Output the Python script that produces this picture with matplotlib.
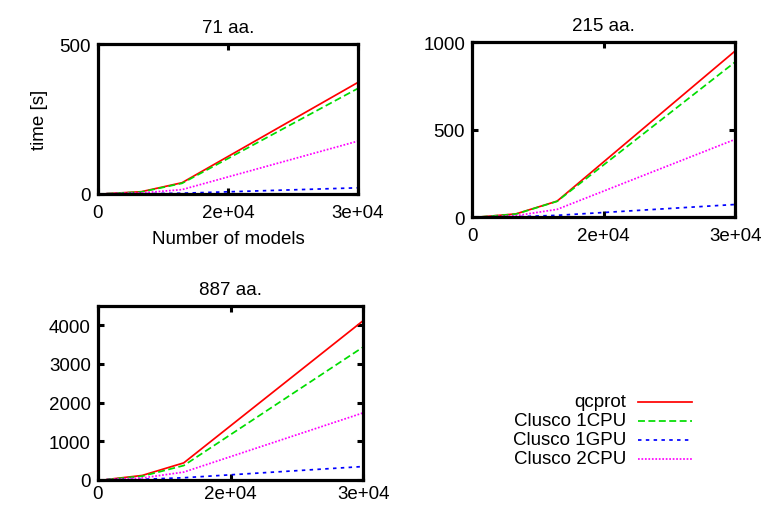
import matplotlib
matplotlib.use("Agg")
import matplotlib.pyplot as plt
from matplotlib.lines import Line2D

plt.rcParams['font.family'] = ['Liberation Sans', 'DejaVu Sans']
plt.rcParams['font.size'] = 13.5

# number of models
models = [1000, 5000, 9700, 30000]

# time [s] per protein size
qcprot_71 = [0.5, 7, 37, 372]
clusco1cpu_71 = [0.5, 6, 35, 352]
clusco1gpu_71 = [0.1, 0.5, 2, 20]
clusco2cpu_71 = [0.3, 3, 14, 176]

qcprot_215 = [1, 18, 91, 949]
clusco1cpu_215 = [1, 17, 90, 886]
clusco1gpu_215 = [0.2, 2, 10, 72]
clusco2cpu_215 = [0.5, 8, 44, 444]

qcprot_887 = [5, 110, 436, 4128]
clusco1cpu_887 = [4, 90, 367, 3444]
clusco1gpu_887 = [0.5, 10, 51, 342]
clusco2cpu_887 = [2, 45, 197, 1735]

series_names = ["qcprot", "Clusco 1CPU", "Clusco 1GPU", "Clusco 2CPU"]
colors = ["#ff0000", "#00dd00", "#0000ff", "#ff00ff"]
styles = ["-", (0, (4, 2)), (0, (2, 2.5)), (0, (1, 1))]

xticks = [0, 15000, 30000]
xticklabels = ["0", "2e+04", "3e+04"]

panels = [
    ("71 aa.", [qcprot_71, clusco1cpu_71, clusco1gpu_71, clusco2cpu_71],
     500, [0, 500], [0.128, 0.615, 0.340, 0.296], 7),
    ("215 aa.", [qcprot_215, clusco1cpu_215, clusco1gpu_215, clusco2cpu_215],
     1000, [0, 500, 1000], [0.617, 0.569, 0.344, 0.346], 7),
    ("887 aa.", [qcprot_887, clusco1cpu_887, clusco1gpu_887, clusco2cpu_887],
     4500, [0, 1000, 2000, 3000, 4000], [0.128, 0.050, 0.347, 0.343], 3.5),
]

fig = plt.figure(figsize=(7.65, 5.06), dpi=100)

for i, (title, data, ymax, yticks, rect, xpad) in enumerate(panels):
    ax = fig.add_axes(rect)
    for vals, c, ls in zip(data, colors, styles):
        ax.plot(models, vals, color=c, linestyle=ls, linewidth=1.25)
    ax.set_xlim(0, 30000)
    ax.set_ylim(0, ymax)
    ax.set_xticks(xticks)
    ax.set_xticklabels(xticklabels)
    ax.set_yticks(yticks)
    ax.tick_params(direction="in", length=4.5, width=2.2, top=True, right=True,
                   pad=5)
    ax.tick_params(axis="x", pad=xpad)
    for sp in ax.spines.values():
        sp.set_linewidth(2.3)
    ax.set_title(title, pad=9, fontsize=13.5)
    if i == 0:
        ax.set_xlabel("Number of models", labelpad=7)
        ax.set_ylabel("time [s]", labelpad=8)

# legend drawn to the right of the bottom panel
leg_y = [403, 422, 441, 460]
for name, c, ls, yp in zip(series_names, colors, styles, leg_y):
    yf = 1 - yp / 506
    fig.text(626 / 765, yf, name, ha="right", va="center")
    fig.add_artist(Line2D([638 / 765, 692 / 765], [yf, yf], color=c,
                          linestyle=ls, linewidth=1.25, transform=fig.transFigure))

fig.savefig("out.png", dpi=100)
